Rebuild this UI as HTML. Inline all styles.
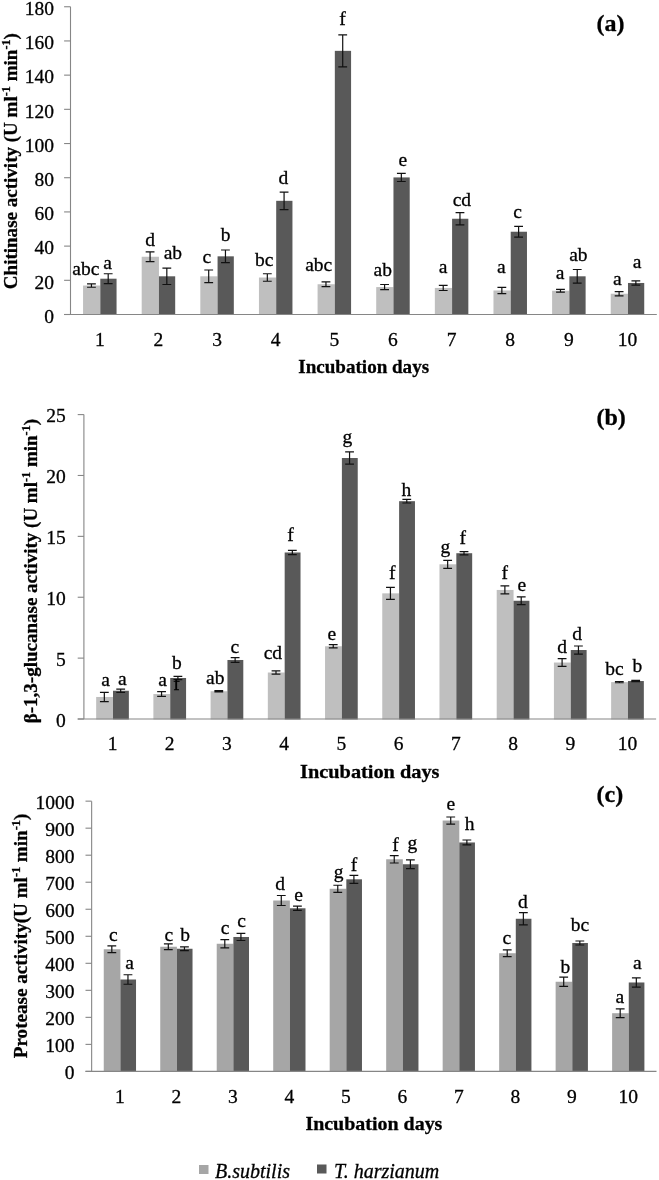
<!DOCTYPE html>
<html><head><meta charset="utf-8"><style>
html,body{margin:0;padding:0;background:#fff;}
svg{display:block;font-family:"Liberation Serif", serif;font-size:19.5px;filter:grayscale(1);}
text{stroke:#000;stroke-width:0.3px;}
</style></head><body>
<svg width="659" height="1180" viewBox="0 0 659 1180" fill="#000">
<path d="M70.5 6.75V314.5" stroke="#868686" stroke-width="1.1"/>
<path d="M64.1 314.50H70.5" stroke="#868686" stroke-width="1.1"/>
<text x="54" y="322.80" text-anchor="end">0</text>
<path d="M64.1 280.31H70.5" stroke="#868686" stroke-width="1.1"/>
<text x="54" y="288.61" text-anchor="end">20</text>
<path d="M64.1 246.11H70.5" stroke="#868686" stroke-width="1.1"/>
<text x="54" y="254.41" text-anchor="end">40</text>
<path d="M64.1 211.92H70.5" stroke="#868686" stroke-width="1.1"/>
<text x="54" y="220.22" text-anchor="end">60</text>
<path d="M64.1 177.72H70.5" stroke="#868686" stroke-width="1.1"/>
<text x="54" y="186.02" text-anchor="end">80</text>
<path d="M64.1 143.53H70.5" stroke="#868686" stroke-width="1.1"/>
<text x="54" y="151.83" text-anchor="end">100</text>
<path d="M64.1 109.33H70.5" stroke="#868686" stroke-width="1.1"/>
<text x="54" y="117.63" text-anchor="end">120</text>
<path d="M64.1 75.14H70.5" stroke="#868686" stroke-width="1.1"/>
<text x="54" y="83.44" text-anchor="end">140</text>
<path d="M64.1 40.94H70.5" stroke="#868686" stroke-width="1.1"/>
<text x="54" y="49.24" text-anchor="end">160</text>
<path d="M64.1 6.75H70.5" stroke="#868686" stroke-width="1.1"/>
<text x="54" y="15.05" text-anchor="end">180</text>
<rect x="83.06" y="285.53" width="17.25" height="29.47" fill="#bfbfbf"/>
<rect x="100.31" y="278.70" width="16.25" height="36.30" fill="#595959"/>
<path d="M91.44 283.83V287.24M87.04 283.83H95.84M87.04 287.24H95.84" stroke="#111" stroke-width="1.2" fill="none"/>
<text x="85.9" y="274.5" text-anchor="middle">abc</text>
<path d="M108.19 273.75V283.66M103.79 273.75H112.59M103.79 283.66H112.59" stroke="#111" stroke-width="1.2" fill="none"/>
<text x="107.5" y="269.25" text-anchor="middle">a</text>
<text x="99.81" y="345.5" text-anchor="middle">1</text>
<rect x="141.69" y="256.75" width="17.25" height="58.25" fill="#bfbfbf"/>
<rect x="158.94" y="276.31" width="16.25" height="38.69" fill="#595959"/>
<path d="M150.07 251.80V261.71M145.67 251.80H154.47M145.67 261.71H154.47" stroke="#111" stroke-width="1.2" fill="none"/>
<text x="150" y="245.5" text-anchor="middle">d</text>
<path d="M166.82 268.11V284.51M162.42 268.11H171.22M162.42 284.51H171.22" stroke="#111" stroke-width="1.2" fill="none"/>
<text x="172.9" y="259.25" text-anchor="middle">ab</text>
<text x="158.44" y="345.5" text-anchor="middle">2</text>
<rect x="200.32" y="276.31" width="17.25" height="38.69" fill="#bfbfbf"/>
<rect x="217.57" y="256.33" width="16.25" height="58.67" fill="#595959"/>
<path d="M208.70 269.99V282.63M204.30 269.99H213.10M204.30 282.63H213.10" stroke="#111" stroke-width="1.2" fill="none"/>
<text x="206.9" y="262.5" text-anchor="middle">c</text>
<path d="M225.45 250.01V262.65M221.05 250.01H229.85M221.05 262.65H229.85" stroke="#111" stroke-width="1.2" fill="none"/>
<text x="225.6" y="240.5" text-anchor="middle">b</text>
<text x="217.07" y="345.5" text-anchor="middle">3</text>
<rect x="258.95" y="277.51" width="17.25" height="37.49" fill="#bfbfbf"/>
<rect x="276.20" y="200.82" width="16.25" height="114.18" fill="#595959"/>
<path d="M267.33 273.75V281.26M262.93 273.75H271.73M262.93 281.26H271.73" stroke="#111" stroke-width="1.2" fill="none"/>
<text x="264.25" y="265.5" text-anchor="middle">bc</text>
<path d="M284.08 192.11V209.53M279.68 192.11H288.48M279.68 209.53H288.48" stroke="#111" stroke-width="1.2" fill="none"/>
<text x="283.4" y="183.75" text-anchor="middle">d</text>
<text x="275.70" y="345.5" text-anchor="middle">4</text>
<rect x="317.58" y="284.25" width="17.25" height="30.75" fill="#bfbfbf"/>
<rect x="334.83" y="50.86" width="16.25" height="264.14" fill="#595959"/>
<path d="M325.96 281.86V286.64M321.56 281.86H330.36M321.56 286.64H330.36" stroke="#111" stroke-width="1.2" fill="none"/>
<text x="318.75" y="271.25" text-anchor="middle">abc</text>
<path d="M342.71 34.80V66.91M338.31 34.80H347.11M338.31 66.91H347.11" stroke="#111" stroke-width="1.2" fill="none"/>
<text x="342.5" y="25" text-anchor="middle">f</text>
<text x="334.33" y="345.5" text-anchor="middle">5</text>
<rect x="376.21" y="287.07" width="17.25" height="27.93" fill="#bfbfbf"/>
<rect x="393.46" y="177.42" width="16.25" height="137.58" fill="#595959"/>
<path d="M384.59 284.51V289.63M380.19 284.51H388.99M380.19 289.63H388.99" stroke="#111" stroke-width="1.2" fill="none"/>
<text x="382.75" y="276.25" text-anchor="middle">ab</text>
<path d="M401.34 173.32V181.52M396.94 173.32H405.74M396.94 181.52H405.74" stroke="#111" stroke-width="1.2" fill="none"/>
<text x="402.9" y="166.25" text-anchor="middle">e</text>
<text x="392.96" y="345.5" text-anchor="middle">6</text>
<rect x="434.84" y="287.93" width="17.25" height="27.07" fill="#bfbfbf"/>
<rect x="452.09" y="218.75" width="16.25" height="96.25" fill="#595959"/>
<path d="M443.22 285.36V290.49M438.82 285.36H447.62M438.82 290.49H447.62" stroke="#111" stroke-width="1.2" fill="none"/>
<text x="443.1" y="273" text-anchor="middle">a</text>
<path d="M459.97 212.60V224.90M455.57 212.60H464.37M455.57 224.90H464.37" stroke="#111" stroke-width="1.2" fill="none"/>
<text x="461.9" y="205.5" text-anchor="middle">cd</text>
<text x="451.59" y="345.5" text-anchor="middle">7</text>
<rect x="493.47" y="290.49" width="17.25" height="24.51" fill="#bfbfbf"/>
<rect x="510.72" y="231.73" width="16.25" height="83.27" fill="#595959"/>
<path d="M501.85 287.41V293.56M497.45 287.41H506.25M497.45 293.56H506.25" stroke="#111" stroke-width="1.2" fill="none"/>
<text x="501.25" y="273" text-anchor="middle">a</text>
<path d="M518.60 226.44V237.03M514.20 226.44H523.00M514.20 237.03H523.00" stroke="#111" stroke-width="1.2" fill="none"/>
<text x="517.5" y="217.5" text-anchor="middle">c</text>
<text x="510.22" y="345.5" text-anchor="middle">8</text>
<rect x="552.10" y="290.74" width="17.25" height="24.26" fill="#bfbfbf"/>
<rect x="569.36" y="276.31" width="16.25" height="38.69" fill="#595959"/>
<path d="M560.48 289.38V292.11M556.08 289.38H564.88M556.08 292.11H564.88" stroke="#111" stroke-width="1.2" fill="none"/>
<text x="560" y="279.25" text-anchor="middle">a</text>
<path d="M577.23 269.48V283.14M572.83 269.48H581.63M572.83 283.14H581.63" stroke="#111" stroke-width="1.2" fill="none"/>
<text x="578.4" y="261.25" text-anchor="middle">ab</text>
<text x="568.86" y="345.5" text-anchor="middle">9</text>
<rect x="610.73" y="293.73" width="17.25" height="21.27" fill="#bfbfbf"/>
<rect x="627.98" y="282.97" width="16.25" height="32.03" fill="#595959"/>
<path d="M619.11 291.60V295.87M614.71 291.60H623.51M614.71 295.87H623.51" stroke="#111" stroke-width="1.2" fill="none"/>
<text x="617.4" y="284.5" text-anchor="middle">a</text>
<path d="M635.86 280.84V285.11M631.46 280.84H640.26M631.46 285.11H640.26" stroke="#111" stroke-width="1.2" fill="none"/>
<text x="637.1" y="268" text-anchor="middle">a</text>
<text x="627.48" y="345.5" text-anchor="middle">10</text>
<path d="M64.1 314.5H656.8" stroke="#868686" stroke-width="1.1"/>
<text x="298.3" y="372.8" font-weight="bold" textLength="130.8" lengthAdjust="spacingAndGlyphs">Incubation days</text>
<text transform="translate(17.2,289.2) rotate(-90)" font-weight="bold" textLength="256.1" lengthAdjust="spacingAndGlyphs">Chitinase activity (U ml<tspan dy="-7" font-size="12.5">-1</tspan><tspan dy="7"> min</tspan><tspan dy="-7" font-size="12.5">-1</tspan><tspan dy="7">)</tspan></text>
<text x="596.5" y="31.4" font-size="24" font-weight="bold">(a)</text>
<path d="M83.9 414.6V719.0" stroke="#868686" stroke-width="1.1"/>
<path d="M77.7 719.00H83.9" stroke="#868686" stroke-width="1.1"/>
<text x="65.7" y="726.80" text-anchor="end">0</text>
<path d="M77.7 658.12H83.9" stroke="#868686" stroke-width="1.1"/>
<text x="65.7" y="665.92" text-anchor="end">5</text>
<path d="M77.7 597.24H83.9" stroke="#868686" stroke-width="1.1"/>
<text x="65.7" y="605.04" text-anchor="end">10</text>
<path d="M77.7 536.36H83.9" stroke="#868686" stroke-width="1.1"/>
<text x="65.7" y="544.16" text-anchor="end">15</text>
<path d="M77.7 475.48H83.9" stroke="#868686" stroke-width="1.1"/>
<text x="65.7" y="483.28" text-anchor="end">20</text>
<path d="M77.7 414.60H83.9" stroke="#868686" stroke-width="1.1"/>
<text x="65.7" y="422.40" text-anchor="end">25</text>
<rect x="96.16" y="696.96" width="16.85" height="22.54" fill="#bfbfbf"/>
<rect x="113.01" y="690.75" width="15.85" height="28.75" fill="#595959"/>
<path d="M104.34 692.33V701.58M99.94 692.33H108.74M99.94 701.58H108.74" stroke="#111" stroke-width="1.2" fill="none"/>
<text x="105.5" y="685.75" text-anchor="middle">a</text>
<path d="M120.68 689.05V692.46M116.28 689.05H125.08M116.28 692.46H125.08" stroke="#111" stroke-width="1.2" fill="none"/>
<text x="122.4" y="685" text-anchor="middle">a</text>
<text x="112.51" y="750" text-anchor="middle">1</text>
<rect x="153.38" y="694.04" width="16.85" height="25.46" fill="#bfbfbf"/>
<rect x="170.23" y="677.99" width="15.85" height="41.51" fill="#595959"/>
<path d="M161.56 691.60V696.47M157.16 691.60H165.96M157.16 696.47H165.96" stroke="#111" stroke-width="1.2" fill="none"/>
<text x="162.5" y="685.5" text-anchor="middle">a</text>
<path d="M177.90 676.28V679.69M173.50 676.28H182.30M173.50 679.69H182.30" stroke="#111" stroke-width="1.2" fill="none"/>
<text x="176.75" y="669.25" text-anchor="middle">b</text>
<text x="169.73" y="750" text-anchor="middle">2</text>
<rect x="210.60" y="691.24" width="16.85" height="28.26" fill="#bfbfbf"/>
<rect x="227.45" y="659.99" width="15.85" height="59.51" fill="#595959"/>
<path d="M218.78 690.63V691.85M214.38 690.63H223.18M214.38 691.85H223.18" stroke="#111" stroke-width="1.2" fill="none"/>
<text x="215.25" y="684.25" text-anchor="middle">ab</text>
<path d="M235.12 657.56V662.42M230.72 657.56H239.52M230.72 662.42H239.52" stroke="#111" stroke-width="1.2" fill="none"/>
<text x="234.9" y="652.5" text-anchor="middle">c</text>
<text x="226.95" y="750" text-anchor="middle">3</text>
<rect x="267.82" y="672.51" width="16.85" height="46.99" fill="#bfbfbf"/>
<rect x="284.67" y="552.49" width="15.85" height="167.01" fill="#595959"/>
<path d="M276.00 670.81V674.22M271.60 670.81H280.40M271.60 674.22H280.40" stroke="#111" stroke-width="1.2" fill="none"/>
<text x="272.9" y="659.25" text-anchor="middle">cd</text>
<path d="M292.34 550.43V554.56M287.94 550.43H296.74M287.94 554.56H296.74" stroke="#111" stroke-width="1.2" fill="none"/>
<text x="290.4" y="540.75" text-anchor="middle">f</text>
<text x="284.17" y="750" text-anchor="middle">4</text>
<rect x="325.04" y="646.25" width="16.85" height="73.25" fill="#bfbfbf"/>
<rect x="341.89" y="458.01" width="15.85" height="261.49" fill="#595959"/>
<path d="M333.22 644.67V647.83M328.82 644.67H337.62M328.82 647.83H337.62" stroke="#111" stroke-width="1.2" fill="none"/>
<text x="331.9" y="640" text-anchor="middle">e</text>
<path d="M349.56 451.93V464.09M345.16 451.93H353.96M345.16 464.09H353.96" stroke="#111" stroke-width="1.2" fill="none"/>
<text x="347.25" y="442.5" text-anchor="middle">g</text>
<text x="341.39" y="750" text-anchor="middle">5</text>
<rect x="382.26" y="593.35" width="16.85" height="126.15" fill="#bfbfbf"/>
<rect x="399.11" y="501.18" width="15.85" height="218.32" fill="#595959"/>
<path d="M390.44 587.39V599.31M386.04 587.39H394.84M386.04 599.31H394.84" stroke="#111" stroke-width="1.2" fill="none"/>
<text x="392.2" y="578.9" text-anchor="middle">f</text>
<path d="M406.78 499.36V503.00M402.38 499.36H411.18M402.38 503.00H411.18" stroke="#111" stroke-width="1.2" fill="none"/>
<text x="406.4" y="495.75" text-anchor="middle">h</text>
<text x="398.61" y="750" text-anchor="middle">6</text>
<rect x="439.48" y="564.29" width="16.85" height="155.21" fill="#bfbfbf"/>
<rect x="456.33" y="553.22" width="15.85" height="166.28" fill="#595959"/>
<path d="M447.66 560.28V568.30M443.26 560.28H452.06M443.26 568.30H452.06" stroke="#111" stroke-width="1.2" fill="none"/>
<text x="445.4" y="552.5" text-anchor="middle">g</text>
<path d="M464.00 551.64V554.80M459.60 551.64H468.40M459.60 554.80H468.40" stroke="#111" stroke-width="1.2" fill="none"/>
<text x="462.75" y="543.75" text-anchor="middle">f</text>
<text x="455.83" y="750" text-anchor="middle">7</text>
<rect x="496.70" y="589.95" width="16.85" height="129.55" fill="#bfbfbf"/>
<rect x="513.55" y="600.77" width="15.85" height="118.73" fill="#595959"/>
<path d="M504.88 585.93V593.96M500.48 585.93H509.28M500.48 593.96H509.28" stroke="#111" stroke-width="1.2" fill="none"/>
<text x="504.75" y="578.75" text-anchor="middle">f</text>
<path d="M521.22 596.88V604.66M516.82 596.88H525.62M516.82 604.66H525.62" stroke="#111" stroke-width="1.2" fill="none"/>
<text x="521.9" y="590.5" text-anchor="middle">e</text>
<text x="513.05" y="750" text-anchor="middle">8</text>
<rect x="553.92" y="662.54" width="16.85" height="56.96" fill="#bfbfbf"/>
<rect x="570.77" y="650.02" width="15.85" height="69.48" fill="#595959"/>
<path d="M562.10 658.65V666.43M557.70 658.65H566.50M557.70 666.43H566.50" stroke="#111" stroke-width="1.2" fill="none"/>
<text x="562" y="652.5" text-anchor="middle">d</text>
<path d="M578.44 646.00V654.03M574.04 646.00H582.84M574.04 654.03H582.84" stroke="#111" stroke-width="1.2" fill="none"/>
<text x="577" y="639.5" text-anchor="middle">d</text>
<text x="570.27" y="750" text-anchor="middle">9</text>
<rect x="611.14" y="682.12" width="16.85" height="37.38" fill="#bfbfbf"/>
<rect x="627.99" y="681.03" width="15.85" height="38.47" fill="#595959"/>
<path d="M619.32 681.51V682.73M614.92 681.51H623.72M614.92 682.73H623.72" stroke="#111" stroke-width="1.2" fill="none"/>
<text x="614.5" y="675" text-anchor="middle">bc</text>
<path d="M635.66 680.42V681.63M631.26 680.42H640.06M631.26 681.63H640.06" stroke="#111" stroke-width="1.2" fill="none"/>
<text x="637.4" y="672" text-anchor="middle">b</text>
<text x="627.49" y="750" text-anchor="middle">10</text>
<clipPath id="cf"><rect x="168.5" y="679.2" width="16" height="14"/></clipPath>
<text x="176.5" y="689.5" text-anchor="middle" clip-path="url(#cf)">f</text>
<path d="M77.7 719.0H656.1" stroke="#868686" stroke-width="1.1"/>
<text x="300.1" y="777.8" font-weight="bold" textLength="139.4" lengthAdjust="spacingAndGlyphs">Incubation days</text>
<text transform="translate(36.9,723.3) rotate(-90)" font-weight="bold" textLength="304.4" lengthAdjust="spacingAndGlyphs">β-1,3-glucanase activity (U ml<tspan dy="-7" font-size="12.5">-1</tspan><tspan dy="7"> min</tspan><tspan dy="-7" font-size="12.5">-1</tspan><tspan dy="7">)</tspan></text>
<text x="596.5" y="424.5" font-size="24" font-weight="bold">(b)</text>
<path d="M91.65 801.15V1071.4" stroke="#868686" stroke-width="1.1"/>
<path d="M85.5 1071.40H91.65" stroke="#868686" stroke-width="1.1"/>
<text x="74.5" y="1079.30" text-anchor="end">0</text>
<path d="M85.5 1044.38H91.65" stroke="#868686" stroke-width="1.1"/>
<text x="74.5" y="1052.28" text-anchor="end">100</text>
<path d="M85.5 1017.35H91.65" stroke="#868686" stroke-width="1.1"/>
<text x="74.5" y="1025.25" text-anchor="end">200</text>
<path d="M85.5 990.33H91.65" stroke="#868686" stroke-width="1.1"/>
<text x="74.5" y="998.23" text-anchor="end">300</text>
<path d="M85.5 963.30H91.65" stroke="#868686" stroke-width="1.1"/>
<text x="74.5" y="971.20" text-anchor="end">400</text>
<path d="M85.5 936.28H91.65" stroke="#868686" stroke-width="1.1"/>
<text x="74.5" y="944.18" text-anchor="end">500</text>
<path d="M85.5 909.25H91.65" stroke="#868686" stroke-width="1.1"/>
<text x="74.5" y="917.15" text-anchor="end">600</text>
<path d="M85.5 882.23H91.65" stroke="#868686" stroke-width="1.1"/>
<text x="74.5" y="890.12" text-anchor="end">700</text>
<path d="M85.5 855.20H91.65" stroke="#868686" stroke-width="1.1"/>
<text x="74.5" y="863.10" text-anchor="end">800</text>
<path d="M85.5 828.17H91.65" stroke="#868686" stroke-width="1.1"/>
<text x="74.5" y="836.07" text-anchor="end">900</text>
<path d="M85.5 801.15H91.65" stroke="#868686" stroke-width="1.1"/>
<text x="74.5" y="809.05" text-anchor="end">1000</text>
<rect x="103.75" y="949.25" width="16.64" height="122.65" fill="#a6a6a6"/>
<rect x="120.39" y="979.50" width="15.64" height="92.40" fill="#595959"/>
<path d="M111.82 945.87V952.64M107.42 945.87H116.22M107.42 952.64H116.22" stroke="#111" stroke-width="1.2" fill="none"/>
<text x="113.25" y="941.25" text-anchor="middle">c</text>
<path d="M127.96 974.76V984.24M123.56 974.76H132.36M123.56 984.24H132.36" stroke="#111" stroke-width="1.2" fill="none"/>
<text x="129.6" y="968.75" text-anchor="middle">a</text>
<text x="119.89" y="1102.5" text-anchor="middle">1</text>
<rect x="160.24" y="946.73" width="16.64" height="125.17" fill="#a6a6a6"/>
<rect x="176.88" y="948.76" width="15.64" height="123.14" fill="#595959"/>
<path d="M168.31 943.86V949.60M163.91 943.86H172.71M163.91 949.60H172.71" stroke="#111" stroke-width="1.2" fill="none"/>
<text x="168.9" y="940.5" text-anchor="middle">c</text>
<path d="M184.45 946.87V950.66M180.05 946.87H188.85M180.05 950.66H188.85" stroke="#111" stroke-width="1.2" fill="none"/>
<text x="185.1" y="941.25" text-anchor="middle">b</text>
<text x="176.38" y="1102.5" text-anchor="middle">2</text>
<rect x="216.72" y="943.75" width="16.64" height="128.15" fill="#a6a6a6"/>
<rect x="233.36" y="936.98" width="15.64" height="134.92" fill="#595959"/>
<path d="M224.79 939.69V947.82M220.39 939.69H229.19M220.39 947.82H229.19" stroke="#111" stroke-width="1.2" fill="none"/>
<text x="225.1" y="934.25" text-anchor="middle">c</text>
<path d="M240.93 933.46V940.50M236.53 933.46H245.33M236.53 940.50H245.33" stroke="#111" stroke-width="1.2" fill="none"/>
<text x="241.6" y="926.75" text-anchor="middle">c</text>
<text x="232.86" y="1102.5" text-anchor="middle">3</text>
<rect x="273.21" y="900.51" width="16.64" height="171.39" fill="#a6a6a6"/>
<rect x="289.85" y="908.28" width="15.64" height="163.62" fill="#595959"/>
<path d="M281.28 895.50V905.52M276.88 895.50H285.68M276.88 905.52H285.68" stroke="#111" stroke-width="1.2" fill="none"/>
<text x="280" y="890" text-anchor="middle">d</text>
<path d="M297.42 906.17V910.39M293.02 906.17H301.82M293.02 910.39H301.82" stroke="#111" stroke-width="1.2" fill="none"/>
<text x="298.6" y="900.5" text-anchor="middle">e</text>
<text x="289.35" y="1102.5" text-anchor="middle">4</text>
<rect x="329.69" y="888.78" width="16.64" height="183.12" fill="#a6a6a6"/>
<rect x="346.33" y="879.30" width="15.64" height="192.60" fill="#595959"/>
<path d="M337.76 885.26V892.30M333.36 885.26H342.16M333.36 892.30H342.16" stroke="#111" stroke-width="1.2" fill="none"/>
<text x="338.5" y="877.5" text-anchor="middle">g</text>
<path d="M353.90 875.29V883.31M349.50 875.29H358.30M349.50 883.31H358.30" stroke="#111" stroke-width="1.2" fill="none"/>
<text x="354" y="871.25" text-anchor="middle">f</text>
<text x="345.83" y="1102.5" text-anchor="middle">5</text>
<rect x="386.18" y="859.26" width="16.64" height="212.64" fill="#a6a6a6"/>
<rect x="402.82" y="864.25" width="15.64" height="207.65" fill="#595959"/>
<path d="M394.25 855.53V863.00M389.85 855.53H398.65M389.85 863.00H398.65" stroke="#111" stroke-width="1.2" fill="none"/>
<text x="395.5" y="851.25" text-anchor="middle">f</text>
<path d="M410.39 859.91V868.58M405.99 859.91H414.79M405.99 868.58H414.79" stroke="#111" stroke-width="1.2" fill="none"/>
<text x="412.25" y="848.5" text-anchor="middle">g</text>
<text x="402.32" y="1102.5" text-anchor="middle">6</text>
<rect x="442.66" y="820.54" width="16.64" height="251.36" fill="#a6a6a6"/>
<rect x="459.30" y="842.47" width="15.64" height="229.43" fill="#595959"/>
<path d="M450.73 817.02V824.06M446.33 817.02H455.13M446.33 824.06H455.13" stroke="#111" stroke-width="1.2" fill="none"/>
<text x="450.9" y="810" text-anchor="middle">e</text>
<path d="M466.87 839.98V844.97M462.47 839.98H471.27M462.47 844.97H471.27" stroke="#111" stroke-width="1.2" fill="none"/>
<text x="469.6" y="830" text-anchor="middle">h</text>
<text x="458.80" y="1102.5" text-anchor="middle">7</text>
<rect x="499.15" y="953.23" width="16.64" height="118.67" fill="#a6a6a6"/>
<rect x="515.79" y="918.76" width="15.64" height="153.14" fill="#595959"/>
<path d="M507.22 949.85V956.62M502.82 949.85H511.62M502.82 956.62H511.62" stroke="#111" stroke-width="1.2" fill="none"/>
<text x="506.9" y="944.25" text-anchor="middle">c</text>
<path d="M523.36 912.64V924.88M518.96 912.64H527.76M518.96 924.88H527.76" stroke="#111" stroke-width="1.2" fill="none"/>
<text x="522.75" y="907.5" text-anchor="middle">d</text>
<text x="515.29" y="1102.5" text-anchor="middle">8</text>
<rect x="555.63" y="981.75" width="16.64" height="90.15" fill="#a6a6a6"/>
<rect x="572.27" y="942.99" width="15.64" height="128.91" fill="#595959"/>
<path d="M563.70 977.14V986.35M559.30 977.14H568.10M559.30 986.35H568.10" stroke="#111" stroke-width="1.2" fill="none"/>
<text x="565.25" y="973.25" text-anchor="middle">b</text>
<path d="M579.84 940.99V945.00M575.44 940.99H584.24M575.44 945.00H584.24" stroke="#111" stroke-width="1.2" fill="none"/>
<text x="579.9" y="930.5" text-anchor="middle">bc</text>
<text x="571.77" y="1102.5" text-anchor="middle">9</text>
<rect x="612.12" y="1013.21" width="16.64" height="58.69" fill="#a6a6a6"/>
<rect x="628.76" y="982.48" width="15.64" height="89.42" fill="#595959"/>
<path d="M620.19 1008.88V1017.55M615.79 1008.88H624.59M615.79 1017.55H624.59" stroke="#111" stroke-width="1.2" fill="none"/>
<text x="619.9" y="1002.5" text-anchor="middle">a</text>
<path d="M636.33 977.87V987.08M631.93 977.87H640.73M631.93 987.08H640.73" stroke="#111" stroke-width="1.2" fill="none"/>
<text x="637.4" y="968.75" text-anchor="middle">a</text>
<text x="628.26" y="1102.5" text-anchor="middle">10</text>
<path d="M85.5 1071.4H656.5" stroke="#868686" stroke-width="1.1"/>
<text x="305.4" y="1130" font-weight="bold" textLength="137.0" lengthAdjust="spacingAndGlyphs">Incubation days</text>
<text transform="translate(26.9,1058.2) rotate(-90)" font-weight="bold" textLength="244.5" lengthAdjust="spacingAndGlyphs">Protease activity(U ml<tspan dy="-7" font-size="12.5">-1</tspan><tspan dy="7"> min</tspan><tspan dy="-7" font-size="12.5">-1</tspan><tspan dy="7">)</tspan></text>
<text x="596.5" y="801.6" font-size="24" font-weight="bold">(c)</text>
<rect x="199" y="1165" width="9.5" height="9" fill="#a6a6a6"/>
<text x="215" y="1178" font-size="20" font-style="italic">B.subtilis</text>
<rect x="317" y="1164.5" width="9.5" height="9" fill="#595959"/>
<text x="334" y="1178" font-size="20" font-style="italic">T. harzianum</text>
</svg>
</body></html>
